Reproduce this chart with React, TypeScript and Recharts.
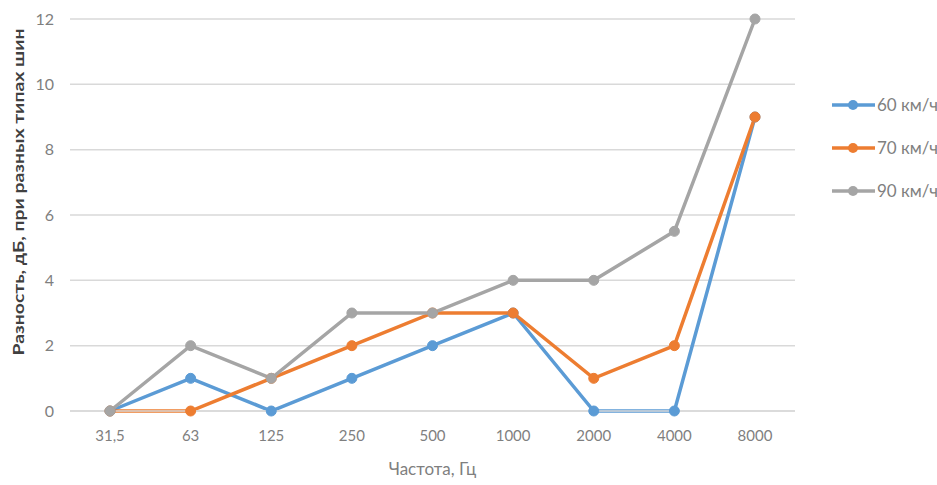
import React from "react";
import { LineChart, Line, XAxis, YAxis, CartesianGrid, Label } from "recharts";

const frequencies = ["31,5", "63", "125", "250", "500", "1000", "2000", "4000", "8000"];
const speed60 = [0, 1, 0, 1, 2, 3, 0, 0, 9];
const speed70 = [0, 0, 1, 2, 3, 3, 1, 2, 9];
const speed90 = [0, 2, 1, 3, 3, 4, 4, 5.5, 12];
const yTicks = [0, 2, 4, 6, 8, 10, 12];

const series = [
  { key: "s60", name: "60 км/ч", color: "#5B9BD5" },
  { key: "s70", name: "70 км/ч", color: "#ED7D31" },
  { key: "s90", name: "90 км/ч", color: "#A5A5A5" },
];

const data = frequencies.map((f, i) => ({
  freq: f,
  s60: speed60[i],
  s70: speed70[i],
  s90: speed90[i],
}));

const font = "Lato, 'Open Sans', sans-serif";

export default function App() {
  return (
    <div style={{ position: "absolute", left: 0, top: 0, width: 937, height: 485, background: "#fff", fontFamily: font }}>
      <LineChart
        width={937}
        height={485}
        data={data}
        margin={{ top: 19, right: 142, bottom: 6, left: 0 }}
      >
        <CartesianGrid vertical={false} stroke="#D9D9D9" strokeWidth={1.5} />
        <XAxis
          dataKey="freq"
          height={68}
          padding={{ left: 40, right: 40 }}
          axisLine={{ stroke: "#D9D9D9", strokeWidth: 1.5 }}
          tickLine={false}
          tickMargin={13}
          tick={{ fill: "#7F7F7F", fontSize: 15, fontFamily: font }}
        >
          <Label value="Частота, Гц" position="insideBottom" offset={4} fill="#7F7F7F" fontSize={17} fontFamily={font} />
        </XAxis>
        <YAxis
          domain={[0, 12]}
          ticks={yTicks}
          width={70}
          axisLine={false}
          tickLine={false}
          tickMargin={10}
          tick={{ fill: "#7F7F7F", fontSize: 16, fontFamily: font }}
          label={{
            content: () => (
              <text
                x={17}
                y={192}
                transform="rotate(-90 17 192)"
                textAnchor="middle"
                dominantBaseline="central"
                fill="#404040"
                fontSize={16}
                fontWeight="bold"
                fontFamily={font}
                textLength={327}
                lengthAdjust="spacingAndGlyphs"
              >
                Разность, дБ, при разных типах шин
              </text>
            ),
          }}
        />
        {series.map((s) => (
          <Line
            key={s.key}
            type="linear"
            dataKey={s.key}
            name={s.name}
            stroke={s.color}
            strokeWidth={3.5}
            dot={{ r: 5, fill: s.color, stroke: s.color, strokeWidth: 1 }}
            isAnimationActive={false}
          />
        ))}
      </LineChart>

      {/* Legend */}
      <div style={{ position: "absolute", left: 832, top: 83 }}>
        {series.map((s) => (
          <div key={s.key} style={{ display: "flex", alignItems: "center", height: 43 }}>
            <svg width={43} height={12} style={{ display: "block" }}>
              <line x1={0} y1={6} x2={43} y2={6} stroke={s.color} strokeWidth={3.5} />
              <circle cx={21} cy={6} r={5} fill={s.color} />
            </svg>
            <span style={{ marginLeft: 2, fontSize: 17, color: "#7F7F7F", whiteSpace: "nowrap" }}>{s.name}</span>
          </div>
        ))}
      </div>
    </div>
  );
}
